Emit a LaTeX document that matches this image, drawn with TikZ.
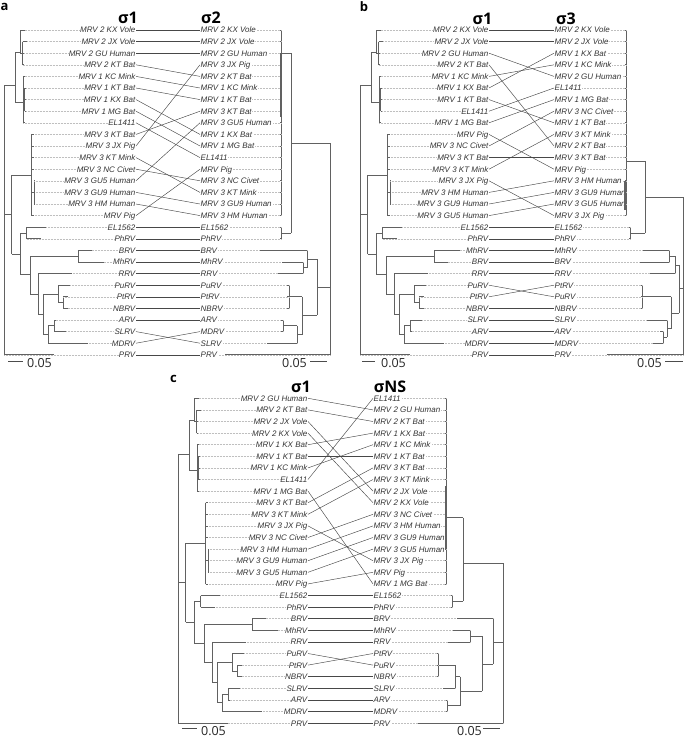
\documentclass[tikz,border=0pt]{standalone}
\usepackage{fontspec}
\setmainfont{Liberation Sans}
\newfontfamily\headfont{Open Sans}

\tikzset{
  lab/.style={font=\fontsize{8}{8}\selectfont\itshape, text=black!80, inner sep=0.5pt, text height=5.8pt, text depth=0pt},
  branch/.style={draw=black!62, line width=0.7pt},
  leader/.style={draw=black!25, line width=0.5pt, densely dotted},
  link/.style={draw=black!72, line width=0.45pt},
  heading/.style={font=\headfont\bfseries\fontsize{16}{16}\selectfont, inner sep=0pt},
  panel/.style={font=\headfont\bfseries\fontsize{13}{13}\selectfont, inner sep=0pt},
  scalelab/.style={font=\headfont\fontsize{12.5}{12.5}\selectfont, text=black!85, inner sep=0pt},
  scalebar/.style={draw=black!70, line width=0.7pt}
}

% tree pieces: vertical bars x/r1/r2, horizontal bars x1/x2/r
\newcommand{\vbars}[1]{\foreach \bx/\ra/\rb in {#1} \draw[branch] (\bx,\ra) -- (\bx,\rb);}
\newcommand{\hbars}[1]{\foreach \xa/\xb/\rr in {#1} \draw[branch] (\xa,\rr) -- (\xb,\rr);}
% leaves: row/parent/tip, leader line runs to the label
\newcommand{\leaves}[3]{\foreach \rr/\px/\tx in {#3} {
    \draw[leader] (\px,\rr) -- (#1\rr.#2);
    \draw[branch] (\px,\rr) -- (\tx,\rr);}}
\newcommand{\combleaves}[4]{\foreach \rr in {#3} {
    \draw[leader] (#4,\rr) -- (#1\rr.#2);
    \draw[branch] (#4,\rr) -- ++(-1,0);}}

% the sigma1 tree, root at x=0; #1 label prefix, #2-#5 tips of rows 20,21,26,27
\newcommand{\sigmaone}[5]{
  \vbars{0/5.8/29, 11/2.9/7.2, 16/1/3, 18.5/2/4, 19/5/9, 20.5/6/8, 7.7/13.5/20.3,
    27.7/10/17, 30/14/16, 16/18.5/22.1, 22.7/18/19, 26/20.5/23.75, 74/20/21,
    34/22/25.5, 39/23.75/27.25, 54/23/24.5, 59/24/25, 44/26.5/28, 50/26/27}
  \hbars{0/11/5.8, 11/16/2.9, 16/18.5/3, 11/19/7.2, 19/20.5/7, 0/7.7/16.9,
    7.7/27.7/13.5, 27.7/30/15, 7.7/16/20.3, 16/22.7/18.5, 16/26/22.1, 26/74/20.5,
    26/34/23.75, 34/39/25.5, 39/54/23.75, 54/59/24.5, 39/44/27.25, 44/50/26.5}
  \leaves{#1}{west}{1/16/21, 2/18.5/23, 3/18.5/20, 4/18.5/20, 5/19/21, 6/20.5/22,
    7/20.5/22, 8/20.5/22, 9/19/21, 10/27.7/30, 11/27.7/30, 12/27.7/30, 13/27.7/30,
    14/30/31, 15/30/31, 16/30/31, 17/27.7/30, 18/22.7/42, 19/22.7/37, 20/74/#2,
    21/74/#3, 22/34/68, 23/54/66, 24/59/64, 25/59/64, 26/50/#4, 27/50/#5,
    28/44/84, 29/0/50}
}

\begin{document}
\begin{tikzpicture}[x=1pt,y=-1pt]
\useasboundingbox (0,0) rectangle (685,737);

%% panel a
\node[panel] (pa) at (4.5,7) {a};
\node[heading] (ha1) at (128,18) {σ1};
\node[heading] (ha2) at (211,18) {σ2};
\begin{scope}[shift={(0,18.4)}, y=-11.6pt]
  \foreach \idx/\nm in {1/MRV 2 KX Vole, 2/MRV 2 JX Vole, 3/MRV 2 GU Human, 4/MRV 2 KT Bat,
      5/MRV 1 KC Mink, 6/MRV 1 KT Bat, 7/MRV 1 KX Bat, 8/MRV 1 MG Bat, 9/EL1411,
      10/MRV 3 KT Bat, 11/MRV 3 JX Pig, 12/MRV 3 KT Mink, 13/MRV 3 NC Civet,
      14/MRV 3 GU5 Human, 15/MRV 3 GU9 Human, 16/MRV 3 HM Human, 17/MRV Pig,
      18/EL1562, 19/PhRV, 20/BRV, 21/MhRV, 22/RRV, 23/PuRV, 24/PtRV, 25/NBRV,
      26/ARV, 27/SLRV, 28/MDRV, 29/PRV}
    \node[lab, anchor=east] (aL\idx) at (136,\idx) {\nm};
  \foreach \idx/\nm in {1/MRV 2 KX Vole, 2/MRV 2 JX Vole, 3/MRV 2 GU Human, 4/MRV 3 JX Pig,
      5/MRV 2 KT Bat, 6/MRV 1 KC Mink, 7/MRV 1 KT Bat, 8/MRV 3 KT Bat,
      9/MRV 3 GU5 Human, 10/MRV 1 KX Bat, 11/MRV 1 MG Bat, 12/EL1411, 13/MRV Pig,
      14/MRV 3 NC Civet, 15/MRV 3 KT Mink, 16/MRV 3 GU9 Human, 17/MRV 3 HM Human,
      18/EL1562, 19/PhRV, 20/BRV, 21/MhRV, 22/RRV, 23/PuRV, 24/PtRV, 25/NBRV,
      26/ARV, 27/MDRV, 28/SLRV, 29/PRV}
    \node[lab, anchor=west] (aR\idx) at (200,\idx) {\nm};
  \foreach \li/\ri in {1/1,2/2,3/3,4/5,5/6,6/7,7/10,8/11,9/12,10/8,11/4,12/15,13/14,
      14/9,15/16,16/17,17/13,18/18,19/19,20/20,21/21,22/22,23/23,24/24,25/25,
      26/26,27/28,28/27,29/29}
    \draw[link] (aL\li.east) -- (aR\ri.west);
  \begin{scope}[xshift=4pt]
    \sigmaone{aL}{88}{100}{52}{62}
  \end{scope}
  \begin{scope}[xshift=330pt]
    \vbars{-49/1/17, -39/3/18.5, -49/18/19, 0/10.75/29, -13/20.75/25.6, -23/20/21.5,
      -27/21/22, -28/24/27.25, -41/23/25, -33/26.5/28, -47/26/27}
    \hbars{0/-39/10.75, -39/-49/3, -39/-49/18.5, 0/-13/23.2, -13/-23/20.75,
      -23/-27/21.5, -13/-28/25.6, -28/-41/24, -28/-33/27.25, -33/-47/26.5}
    \combleaves{aR}{east}{1,...,19}{-49}
    \leaves{aR}{east}{20/-23/-70, 21/-27/-48, 22/-27/-52, 23/-41/-43, 24/-41/-43,
      25/-41/-43, 26/-47/-49, 27/-47/-49, 28/-33/-63, 29/0/-105}
    \draw[branch, line width=1.3pt] (-49,3) -- (-49,8.5);
  \end{scope}
\end{scope}
\draw[scalebar] (8,361) -- (23,361);
\node[scalelab] (sa1) at (39.5,363) {0.05};
\node[scalelab] (sa2) at (294.5,363) {0.05};
\draw[scalebar] (310,361) -- (327,361);

%% panel b
\node[panel] (pb) at (364,7) {b};
\node[heading] (hb1) at (482.5,18.5) {σ1};
\node[heading] (hb2) at (566,18.5) {σ3};
\begin{scope}[shift={(0,18.4)}, y=-11.6pt]
  \foreach \idx/\nm in {1/MRV 2 KX Vole, 2/MRV 2 JX Vole, 3/MRV 2 GU Human, 4/MRV 2 KT Bat,
      5/MRV 1 KC Mink, 6/MRV 1 KX Bat, 7/MRV 1 KT Bat, 8/EL1411, 9/MRV 1 MG Bat,
      10/MRV Pig, 11/MRV 3 NC Civet, 12/MRV 3 KT Bat, 13/MRV 3 KT Mink,
      14/MRV 3 JX Pig, 15/MRV 3 HM Human, 16/MRV 3 GU9 Human, 17/MRV 3 GU5 Human,
      18/EL1562, 19/PhRV, 20/MhRV, 21/BRV, 22/RRV, 23/PuRV, 24/PtRV, 25/NBRV,
      26/SLRV, 27/ARV, 28/MDRV, 29/PRV}
    \node[lab, anchor=east] (bL\idx) at (489,\idx) {\nm};
  \foreach \idx/\nm in {1/MRV 2 KX Vole, 2/MRV 2 JX Vole, 3/MRV 1 KX Bat, 4/MRV 1 KC Mink,
      5/MRV 2 GU Human, 6/EL1411, 7/MRV 1 MG Bat, 8/MRV 3 NC Civet, 9/MRV 1 KT Bat,
      10/MRV 3 KT Mink, 11/MRV 2 KT Bat, 12/MRV 3 KT Bat, 13/MRV Pig,
      14/MRV 3 HM Human, 15/MRV 3 GU9 Human, 16/MRV 3 GU5 Human, 17/MRV 3 JX Pig,
      18/EL1562, 19/PhRV, 20/MhRV, 21/BRV, 22/RRV, 23/PtRV, 24/PuRV, 25/NBRV,
      26/SLRV, 27/ARV, 28/MDRV, 29/PRV}
    \node[lab, anchor=west] (bR\idx) at (554,\idx) {\nm};
  \foreach \li/\ri in {1/1,2/2,3/5,4/11,5/4,6/3,7/9,8/6,9/7,10/13,11/8,12/12,13/10,
      14/17,15/14,16/15,17/16,18/18,19/19,20/20,21/21,22/22,23/24,24/23,25/25,
      26/26,27/27,28/28,29/29}
    \draw[link] (bL\li.east) -- (bR\ri.west);
  \begin{scope}[xshift=360pt]
    \sigmaone{bL}{100}{88}{62}{52}
  \end{scope}
  \begin{scope}[xshift=683pt]
    \vbars{-57/1/17, -38/12.3/18.5, -53/18/19, 0/15.4/29, -4/21.25/25.4, -8/20.5/22,
      -14/20/21, -12/24/26.75, -41/23/25, -16/26/27.5, -20/27/28}
    \hbars{0/-38/15.4, -38/-57/12.3, -38/-53/18.5, 0/-4/23.3, -4/-8/21.25,
      -8/-14/20.5, -4/-12/25.4, -12/-41/24, -12/-16/26.75, -16/-20/27.5}
    \combleaves{bR}{east}{1,...,17}{-57}
    \leaves{bR}{east}{18/-53/-54, 19/-53/-54, 20/-14/-40, 21/-14/-43, 22/-8/-33,
      23/-41/-42, 24/-41/-42, 25/-41/-42, 26/-16/-36, 27/-20/-23, 28/-20/-30,
      29/0/-76}
    \draw[branch, line width=1.3pt] (-58,14) -- (-58,16.5);
  \end{scope}
\end{scope}
\draw[scalebar] (362,361) -- (375,361);
\node[scalelab] (sb1) at (393.5,363) {0.05};
\node[scalelab] (sb2) at (649.5,363) {0.05};
\draw[scalebar] (665,361) -- (683,361);

%% panel c
\node[panel] (pc) at (173.5,379) {c};
\node[heading] (hc1) at (301,386.5) {σ1};
\node[heading] (hc2) at (390,386.5) {σNS};
\begin{scope}[shift={(0,386.7)}, y=-11.6pt]
  \foreach \idx/\nm in {1/MRV 2 GU Human, 2/MRV 2 KT Bat, 3/MRV 2 JX Vole, 4/MRV 2 KX Vole,
      5/MRV 1 KX Bat, 6/MRV 1 KT Bat, 7/MRV 1 KC Mink, 8/EL1411, 9/MRV 1 MG Bat,
      10/MRV 3 KT Bat, 11/MRV 3 KT Mink, 12/MRV 3 JX Pig, 13/MRV 3 NC Civet,
      14/MRV 3 HM Human, 15/MRV 3 GU9 Human, 16/MRV 3 GU5 Human, 17/MRV Pig,
      18/EL1562, 19/PhRV, 20/BRV, 21/MhRV, 22/RRV, 23/PuRV, 24/PtRV, 25/NBRV,
      26/SLRV, 27/ARV, 28/MDRV, 29/PRV}
    \node[lab, anchor=east] (cL\idx) at (308,\idx) {\nm};
  \foreach \idx/\nm in {1/EL1411, 2/MRV 2 GU Human, 3/MRV 2 KT Bat, 4/MRV 1 KX Bat,
      5/MRV 1 KC Mink, 6/MRV 1 KT Bat, 7/MRV 3 KT Bat, 8/MRV 3 KT Mink,
      9/MRV 2 JX Vole, 10/MRV 2 KX Vole, 11/MRV 3 NC Civet, 12/MRV 3 HM Human,
      13/MRV 3 GU9 Human, 14/MRV 3 GU5 Human, 15/MRV 3 JX Pig, 16/MRV Pig,
      17/MRV 1 MG Bat, 18/EL1562, 19/PhRV, 20/BRV, 21/MhRV, 22/RRV, 23/PtRV,
      24/PuRV, 25/NBRV, 26/SLRV, 27/ARV, 28/MDRV, 29/PRV}
    \node[lab, anchor=west] (cR\idx) at (373,\idx) {\nm};
  \foreach \li/\ri in {1/2,2/3,3/9,4/10,5/4,6/6,7/5,8/1,9/17,10/7,11/8,12/15,13/11,
      14/12,15/13,16/14,17/16,18/18,19/19,20/20,21/21,22/22,23/24,24/23,25/25,
      26/26,27/27,28/28,29/29}
    \draw[link] (cL\li.east) -- (cR\ri.west);
  \begin{scope}[xshift=178pt]
    \sigmaone{cL}{88}{100}{62}{52}
  \end{scope}
  \begin{scope}[xshift=503pt]
    \vbars{-57/1/17, -40/11.3/18.5, -51/18/19, 0/15.2/29, -10/20/23.9, -21/21.5/26.25,
      -33/21/22, -43/25/27.5, -48/24/26, -65/23/25, -56/27/28}
    \hbars{0/-40/15.2, -40/-57/11.3, -40/-51/18.5, 0/-10/22, -10/-21/23.9,
      -21/-33/21.5, -21/-43/26.25, -43/-48/25, -48/-65/24, -43/-56/27.5}
    \combleaves{cR}{east}{1,...,17}{-57}
    \leaves{cR}{east}{18/-51/-52, 19/-51/-52, 20/-10/-46, 21/-33/-50, 22/-33/-55,
      23/-65/-66, 24/-65/-66, 25/-65/-66, 26/-48/-60, 27/-56/-57, 28/-56/-57,
      29/0/-85}
    \draw[branch, line width=1.3pt] (-57,8.6) -- (-57,14);
  \end{scope}
\end{scope}
\draw[scalebar] (182,728) -- (197,728);
\node[scalelab] (sc1) at (213.5,731) {0.05};
\node[scalelab] (sc2) at (469.5,731) {0.05};
\draw[scalebar] (483,728) -- (500,728);
\end{tikzpicture}
\end{document}
